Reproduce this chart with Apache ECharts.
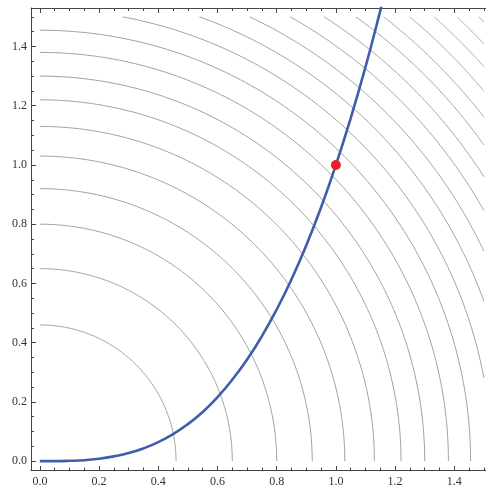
<!DOCTYPE html>
<html>
<head>
<meta charset="utf-8">
<script src="https://cdn.jsdelivr.net/npm/echarts@6/dist/echarts.min.js"></script>
<style>
  html, body { margin: 0; padding: 0; background: #fff; }
  #chart { width: 486px; height: 489px; }
</style>
</head>
<body>
<div id="chart"></div>
<script>
const contourRadii = [0.46, 0.65, 0.80, 0.92, 1.03, 1.13, 1.22, 1.30, 1.38, 1.455,
  1.526, 1.594, 1.659, 1.722, 1.781, 1.841, 1.897, 1.952, 2.006, 2.058, 2.109];

// Blue curve
const curveX = [0, 0.05, 0.1, 0.15, 0.2, 0.25, 0.3, 0.35, 0.4, 0.45, 0.5, 0.55, 0.6,
  0.65, 0.7, 0.75, 0.8, 0.85, 0.9, 0.95, 1.0, 1.05, 1.1, 1.15, 1.16];
const curveY = [0, 0.0001, 0.001, 0.003, 0.008, 0.016, 0.027, 0.043, 0.064, 0.091, 0.125,
  0.166, 0.216, 0.275, 0.343, 0.422, 0.512, 0.614, 0.729, 0.857, 1.0, 1.158, 1.331, 1.521, 1.561];

// Red point
const pointXY = [1.0, 1.0];

const majorTicks = [0, 0.2, 0.4, 0.6, 0.8, 1.0, 1.2, 1.4];
const minorTicks = [0.05, 0.1, 0.15, 0.25, 0.3, 0.35, 0.45, 0.5, 0.55, 0.65, 0.7, 0.75,
  0.85, 0.9, 0.95, 1.05, 1.1, 1.15, 1.25, 1.3, 1.35, 1.45, 1.5];

const clipMax = 1.5;
const xMin = -0.03;
const xMax = 1.507;
const yMin = -0.03;
const yMax = 1.53;

const chart = echarts.init(document.getElementById("chart"), null, { renderer: "canvas" });

const labelStyle = {
  fontFamily: "Liberation Serif",
  fontSize: 12,
  color: "#333",
};

function makeAxis(kind, position, ticks, length, withLabels, withLine) {
  return {
    type: "value",
    position: position,
    min: kind === "x" ? xMin : yMin,
    max: kind === "x" ? xMax : yMax,
    splitLine: { show: false },
    axisLine: { show: withLine, onZero: false, lineStyle: { color: "#444", width: 1 } },
    axisTick: {
      show: true,
      inside: true,
      length: length,
      customValues: ticks,
      lineStyle: { color: "#444", width: 1 },
    },
    axisLabel: withLabels
      ? {
          show: true,
          customValues: majorTicks,
          margin: kind === "x" ? 6 : 4,
          formatter: (v) => v.toFixed(1),
          ...labelStyle,
        }
      : { show: false },
  };
}

function renderContour(params, api) {
  const r = contourRadii[params.dataIndex];
  const lim = Math.min(1, clipMax / r);
  const t0 = Math.acos(lim);
  const t1 = Math.asin(lim);
  if (t1 <= t0) return null;
  const points = [];
  const steps = 120;
  for (let i = 0; i <= steps; i++) {
    const t = t0 + ((t1 - t0) * i) / steps;
    points.push(api.coord([r * Math.cos(t), r * Math.sin(t)]));
  }
  return {
    type: "polyline",
    shape: { points: points },
    style: { stroke: "#a3a3a3", lineWidth: 1, fill: null },
    silent: true,
  };
}

const option = {
  animation: false,
  backgroundColor: "#fff",
  grid: { left: 31, top: 8, right: 0, bottom: 19 },
  xAxis: [
    makeAxis("x", "bottom", majorTicks, 4, true, true),
    makeAxis("x", "bottom", minorTicks, 2.5, false, false),
    makeAxis("x", "top", majorTicks, 5, false, true),
    makeAxis("x", "top", minorTicks, 3, false, false),
  ],
  yAxis: [
    makeAxis("y", "left", majorTicks, 5, true, true),
    makeAxis("y", "left", minorTicks, 3, false, false),
  ],
  series: [
    {
      type: "custom",
      xAxisIndex: 0,
      yAxisIndex: 0,
      data: contourRadii.map((r) => [r, 0]),
      renderItem: renderContour,
      clip: true,
      z: 1,
    },
    {
      type: "line",
      xAxisIndex: 0,
      yAxisIndex: 0,
      data: curveX.map((x, i) => [x, curveY[i]]),
      smooth: true,
      showSymbol: false,
      clip: true,
      lineStyle: { color: "#3f5eaa", width: 2.6 },
      z: 2,
    },
    {
      type: "scatter",
      xAxisIndex: 0,
      yAxisIndex: 0,
      data: [pointXY],
      symbolSize: 10,
      itemStyle: { color: "#ec1f28", opacity: 1 },
      emphasis: { disabled: true },
      z: 3,
    },
  ],
};

chart.setOption(option);
</script>
</body>
</html>
